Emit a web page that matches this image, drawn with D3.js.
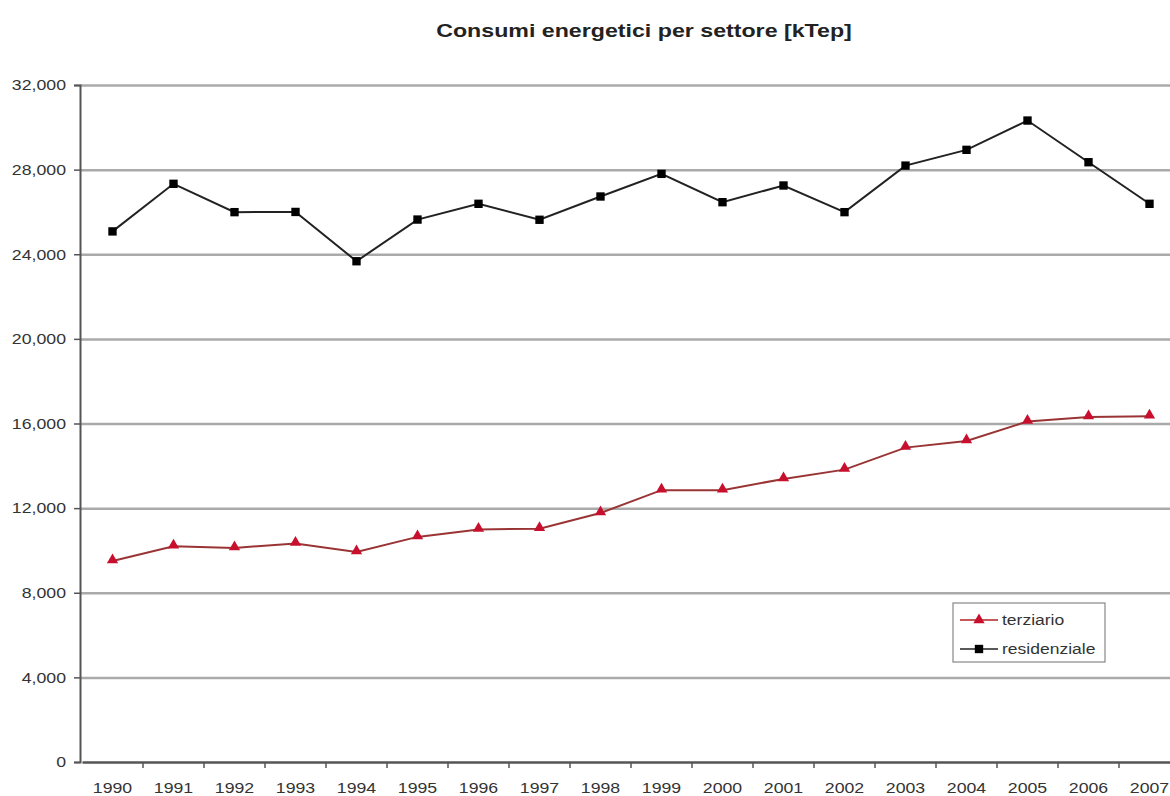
<!DOCTYPE html>
<html>
<head>
<meta charset="utf-8">
<script src="https://cdn.jsdelivr.net/npm/d3@7"></script>
<style>
  body { margin: 0; background: #fff; }
  svg { display: block; font-family: "Liberation Sans", Arial, sans-serif; }
</style>
</head>
<body>
<div id="chart"></div>
<script>
const years = ["1990", "1991", "1992", "1993", "1994", "1995", "1996", "1997", "1998",
  "1999", "2000", "2001", "2002", "2003", "2004", "2005", "2006", "2007"];
const terziario = [9500, 10200, 10120, 10330, 9930, 10640, 10990, 11030, 11770,
  12850, 12850, 13380, 13820, 14860, 15170, 16100, 16310, 16340];
const residenziale = [25080, 27330, 25990, 26000, 23670, 25640, 26385, 25630, 26730,
  27800, 26460, 27250, 25990, 28190, 28935, 30320, 28350, 26385];
const yTicks = [0, 4000, 8000, 12000, 16000, 20000, 24000, 28000, 32000];
const seriesNames = ["terziario", "residenziale"];

const width = 1170, height = 796;
const stretch = 1.18;

const svg = d3.select("#chart").append("svg")
  .attr("width", width)
  .attr("height", height);

const x = d3.scaleBand()
  .domain(years)
  .range([82, 1180])
  .paddingInner(0)
  .paddingOuter(0);

const y = d3.scaleLinear()
  .domain([0, 32000])
  .range([762, 85]);

// widen text a bit, the original rendering is horizontally stretched
function widen(sel, k) {
  sel.each(function() {
    const len = this.getComputedTextLength();
    d3.select(this).attr("textLength", len * k).attr("lengthAdjust", "spacingAndGlyphs");
  });
}

// title
svg.append("text")
  .attr("x", 644)
  .attr("y", 37)
  .attr("text-anchor", "middle")
  .attr("font-size", 19)
  .attr("font-weight", "bold")
  .attr("fill", "#222")
  .text("Consumi energetici per settore [kTep]")
  .call(widen, 1.22);

// gridlines
svg.append("g")
  .attr("transform", "translate(80,0)")
  .call(d3.axisLeft(y).tickValues(yTicks.filter(d => d > 0)).tickSize(-1100).tickFormat(""))
  .call(g => g.select(".domain").remove())
  .call(g => g.selectAll("line").attr("stroke", "#aaaaaa").attr("stroke-width", 2.5));

// y axis
const yAxis = svg.append("g")
  .attr("transform", "translate(80,0)")
  .call(d3.axisLeft(y).tickValues(yTicks).tickFormat(d3.format(",")).tickSize(6).tickPadding(8));
yAxis.select(".domain").attr("stroke", "#555").attr("stroke-width", 2);
yAxis.selectAll(".tick line").attr("stroke", "#555").attr("stroke-width", 1.5);
yAxis.selectAll("text")
  .attr("font-size", 15)
  .attr("fill", "#333")
  .call(widen, stretch);

// x axis
const xAxis = svg.append("g")
  .attr("transform", "translate(0,762)")
  .call(d3.axisBottom(x).tickSize(0).tickPadding(20));
xAxis.select(".domain").attr("stroke", "#555").attr("stroke-width", 2.5);
xAxis.selectAll("text")
  .attr("font-size", 15)
  .attr("fill", "#333")
  .call(widen, stretch);

// tick marks between categories
svg.append("g")
  .selectAll("line")
  .data(years)
  .join("line")
  .attr("x1", d => x(d) + x.bandwidth())
  .attr("x2", d => x(d) + x.bandwidth())
  .attr("y1", 762)
  .attr("y2", 768)
  .attr("stroke", "#555")
  .attr("stroke-width", 1.5);

const cx = d => x(d) + x.bandwidth() / 2;
const line = d3.line()
  .x((d, i) => cx(years[i]))
  .y(d => y(d));

const triangle = d3.symbol().type(d3.symbolTriangle).size(55);
const square = d3.symbol().type(d3.symbolSquare).size(70);

// terziario
svg.append("path")
  .datum(terziario)
  .attr("fill", "none")
  .attr("stroke", "#9a3434")
  .attr("stroke-width", 2)
  .attr("d", line);
svg.append("g")
  .selectAll("path")
  .data(terziario)
  .join("path")
  .attr("d", triangle)
  .attr("transform", (d, i) => `translate(${cx(years[i])},${y(d) - 1})`)
  .attr("fill", "#c8102e");

// residenziale
svg.append("path")
  .datum(residenziale)
  .attr("fill", "none")
  .attr("stroke", "#222")
  .attr("stroke-width", 2)
  .attr("d", line);
svg.append("g")
  .selectAll("rect")
  .data(residenziale)
  .join("path")
  .attr("d", square)
  .attr("transform", (d, i) => `translate(${cx(years[i])},${y(d)})`)
  .attr("fill", "#000");

// legend
const legend = svg.append("g").attr("transform", "translate(953,603)");
legend.append("rect")
  .attr("width", 152)
  .attr("height", 59)
  .attr("fill", "#fff")
  .attr("stroke", "#888")
  .attr("stroke-width", 1.2);

const legendItems = [
  { name: seriesNames[0], color: "#b22222", marker: triangle, fill: "#c8102e" },
  { name: seriesNames[1], color: "#222", marker: square, fill: "#000" }
];

legendItems.forEach((item, i) => {
  const ly = 17 + i * 29;
  legend.append("line")
    .attr("x1", 7).attr("x2", 45)
    .attr("y1", ly).attr("y2", ly)
    .attr("stroke", item.color)
    .attr("stroke-width", 1.5);
  legend.append("path")
    .attr("d", item.marker)
    .attr("transform", `translate(26,${ly})`)
    .attr("fill", item.fill);
  legend.append("text")
    .attr("x", 49)
    .attr("y", ly + 5)
    .attr("font-size", 14)
    .attr("fill", "#333")
    .text(item.name)
    .call(widen, 1.25);
});
</script>
</body>
</html>
